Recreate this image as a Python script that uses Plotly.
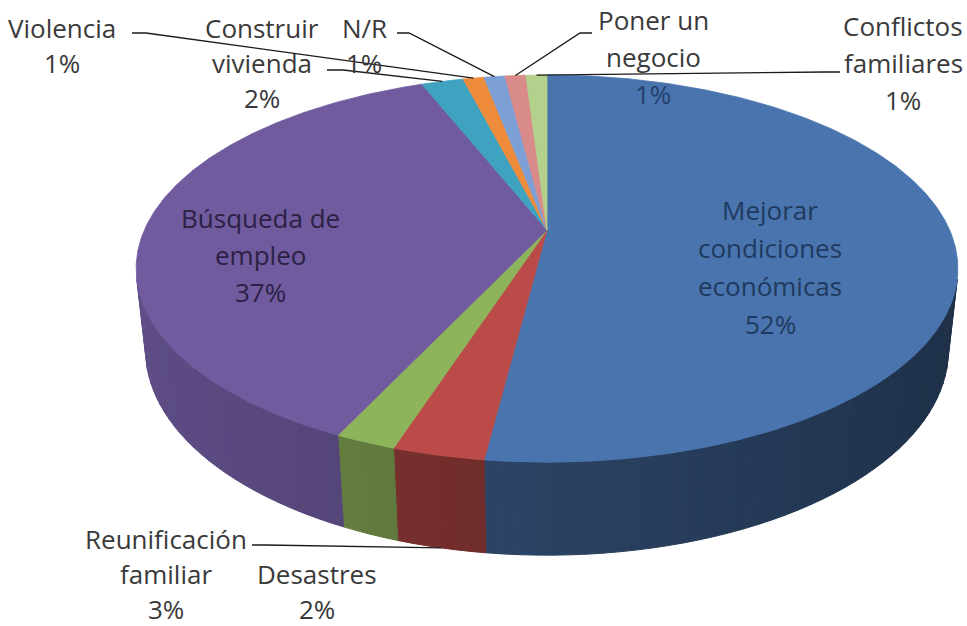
import numpy as np
import plotly.graph_objects as go

# ---------------- data ----------------
categories = ["Mejorar condiciones económicas", "Reunificación familiar", "Desastres",
              "Búsqueda de empleo", "Construir vivienda", "Violencia", "N/R",
              "Poner un negocio", "Conflictos familiares"]
values = [52, 3, 2, 37, 2, 1, 1, 1, 1]
label_lines = [["Mejorar", "condiciones", "económicas"], ["Reunificación", "familiar"],
               ["Desastres"], ["Búsqueda de", "empleo"], ["Construir", "vivienda"],
               ["Violencia"], ["N/R"], ["Poner un", "negocio"], ["Conflictos", "familiares"]]

# ---------------- style ----------------
top_colors = ["#4A74AD", "#BA4B48", "#8DB45A", "#6F5B9E", "#3FA2C0",
              "#EF8C3C", "#7C9FD6", "#D98B89", "#B3D08C"]
wall_base = [0.57, 0.59, 0.63, 0.70, 0.6, 0.6, 0.6, 0.6, 0.6]
text_colors = ["#1F3A60", "#3A3A3A", "#3A3A3A", "#2B2145", "#3A3A3A",
               "#3A3A3A", "#3A3A3A", "#3A3A3A", "#3A3A3A"]
FONT = "Open Sans"
FSIZE = 26

# label placement: (x centre, y of first line, line spacing)
LABEL_POS = [(770, 210, 38), (166, 539, 35), (317, 574, 35), (260, 218, 37),
             (262, 28, 35), (62, 28, 35), (364, 28, 35), (653, 20, 37), (903, 26, 37)]
# leader lines: slice index -> (start point, bend point, rim 'top'/'bottom')
LEADERS = {5: ((132, 33), (146, 33), "top"), 4: ((327, 70), (343, 70), "top"),
           6: ((397, 33), (409, 33), "top"), 7: ((592, 33), (580, 33), "top"),
           8: ((840, 72), (826, 72), "top"), 1: ((252, 545), (266, 545), "bottom")}

# ---------------- 3D projection ----------------
W, Hpx = 967, 626
CX, CY = 547, 230
F, D, SA = 1834.0, 4.473, 0.4534
SX = 0.982
CA = np.sqrt(1 - SA ** 2)
H = 0.224


def proj(x, y, z):
    depth = D + y * CA - z * SA
    up = y * SA + z * CA
    return CX + SX * F * x / depth, CY - F * up / depth


def rim(theta_deg, z):
    t = np.radians(theta_deg)
    return proj(np.cos(t), np.sin(t), z)


def shade(hexcol, k):
    r, g, b = (int(hexcol[i:i + 2], 16) for i in (1, 3, 5))
    return "rgb(%d,%d,%d)" % (r * k, g * k, b * k)


total = sum(values)
starts, ends = [], []
a = 90.0
for v in values:
    starts.append(a)
    a -= 360.0 * v / total
    ends.append(a)

fig = go.Figure()

# visible outer walls
vis_lo = -180 + np.degrees(np.arcsin(1 / (D * CA)))
vis_hi = -np.degrees(np.arcsin(1 / (D * CA)))
for i in range(len(values)):
    lo, hi = max(ends[i], vis_lo), min(starts[i], vis_hi)
    if lo >= hi:
        continue
    n = max(1, int(np.ceil((hi - lo) / 2.0)))
    edges = np.linspace(hi, lo, n + 1)
    for j in range(n):
        ts = np.linspace(edges[j], edges[j + 1], 6)
        xt, yt = rim(ts, 0.0)
        xb, yb = rim(ts[::-1], -H)
        mid = np.radians((edges[j] + edges[j + 1]) / 2)
        col = shade(top_colors[i], wall_base[i] - 0.16 * np.cos(mid))
        fig.add_trace(go.Scatter(x=np.r_[xt, xb, xt[0]], y=np.r_[yt, yb, yt[0]],
                                 mode="lines", fill="toself", fillcolor=col,
                                 line=dict(color=col, width=1), hoverinfo="skip",
                                 showlegend=False))

# top surfaces
cx0, cy0 = proj(0.0, 0.0, 0.0)
for i in range(len(values)):
    ts = np.linspace(starts[i], ends[i], max(3, int(abs(starts[i] - ends[i]) * 2)))
    xs, ys = rim(ts, 0.0)
    fig.add_trace(go.Scatter(x=np.r_[cx0, xs, cx0], y=np.r_[cy0, ys, cy0],
                             mode="lines", fill="toself", fillcolor=top_colors[i],
                             line=dict(color=top_colors[i], width=0.8),
                             hoverinfo="skip", showlegend=False, name=categories[i]))

# leader lines
for i, (p0, p1, which) in LEADERS.items():
    m = (starts[i] + ends[i]) / 2
    ex, ey = rim(m, 0.0 if which == "top" else -H)
    fig.add_trace(go.Scatter(x=[p0[0], p1[0], ex], y=[p0[1], p1[1], ey], mode="lines",
                             line=dict(color="#1a1a1a", width=1.3), hoverinfo="skip",
                             showlegend=False))

# labels
ann = []
for i in range(len(values)):
    x0, y0, dy = LABEL_POS[i]
    lines = label_lines[i] + ["%d%%" % values[i]]
    for k, t in enumerate(lines):
        col = text_colors[i]
        if i == 7 and k == len(lines) - 1:
            col = "#23406E"
        ann.append(dict(x=x0, y=y0 + k * dy, text=t, showarrow=False, xref="x", yref="y",
                        xanchor="center", yanchor="middle",
                        font=dict(family=FONT, size=FSIZE, color=col)))

fig.update_layout(width=W, height=Hpx, margin=dict(l=0, r=0, t=0, b=0),
                  paper_bgcolor="white", plot_bgcolor="white", annotations=ann,
                  xaxis=dict(range=[0, W], visible=False, fixedrange=True),
                  yaxis=dict(range=[Hpx, 0], visible=False, fixedrange=True),
                  showlegend=False)
fig.write_html("out.html", config={"displayModeBar": False},
               post_script="document.body.style.margin='0';document.body.style.overflow='hidden';")
